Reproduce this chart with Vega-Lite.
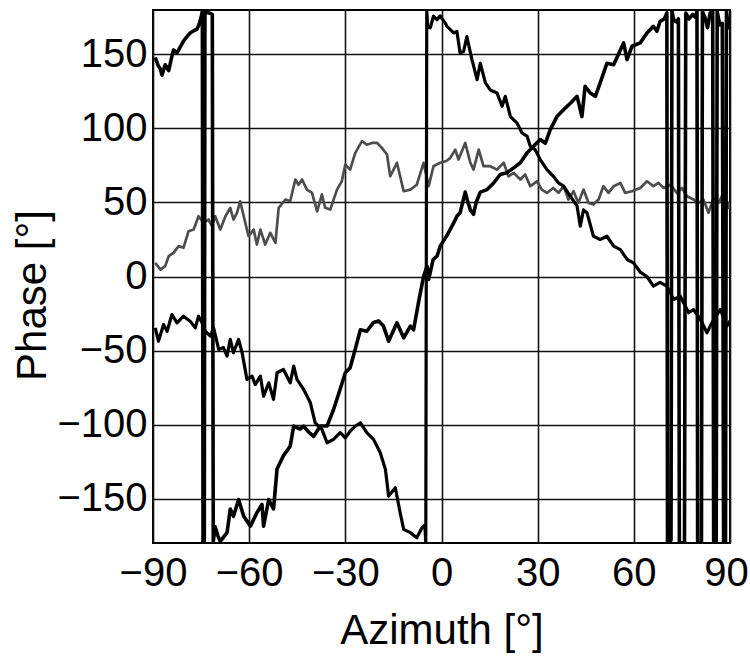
{
  "$schema": "https://vega.github.io/schema/vega-lite/v6.json",
  "autosize": {"type": "none"},
  "padding": {"left": 153, "top": 10, "right": 20, "bottom": 116},
  "width": 577,
  "height": 533,
  "background": "white",
  "config": {
    "font": "Liberation Sans, sans-serif",
    "view": {"stroke": "black", "strokeWidth": 2},
    "axis": {
      "domain": false,
      "ticks": false,
      "tickSize": 0,
      "grid": true,
      "gridColor": "#111",
      "gridWidth": 1.6,
      "gridOpacity": 1,
      "labelFont": "Liberation Sans, sans-serif",
      "labelFontSize": 40,
      "labelColor": "black",
      "titleFont": "Liberation Sans, sans-serif",
      "titleFontSize": 42,
      "titleFontWeight": "normal",
      "titleColor": "black"
    }
  },
  "datasets": {
    "A": [
      {"az": -89.3, "ph": 148}, {"az": -88.5, "ph": 143}, {"az": -87.7, "ph": 140}, {"az": -87.2, "ph": 136},
      {"az": -86.2, "ph": 143}, {"az": -85.1, "ph": 139}, {"az": -84.3, "ph": 147}, {"az": -83.6, "ph": 153},
      {"az": -82.5, "ph": 151}, {"az": -81.5, "ph": 155}, {"az": -80.5, "ph": 159}, {"az": -79.4, "ph": 162},
      {"az": -78.4, "ph": 164.5}, {"az": -77.3, "ph": 166}, {"az": -76.3, "ph": 167}, {"az": -75.5, "ph": 171},
      {"az": -74.9, "ph": 176}, {"az": -74.6, "ph": 179}, {"az": -74.4, "ph": -179}, {"az": -74.2, "ph": -180},
      {"az": -74.0, "ph": -179}, {"az": -73.8, "ph": 179}, {"az": -72.5, "ph": 178}, {"az": -71.5, "ph": 177},
      {"az": -71.2, "ph": -179}, {"az": -70.6, "ph": -169}, {"az": -69.8, "ph": -175}, {"az": -69.0, "ph": -179},
      {"az": -68.0, "ph": -176}, {"az": -66.9, "ph": -173}, {"az": -65.9, "ph": -157}, {"az": -64.9, "ph": -162},
      {"az": -63.3, "ph": -150.6}, {"az": -61.7, "ph": -162}, {"az": -59.6, "ph": -168.6}, {"az": -57.6, "ph": -159.6},
      {"az": -56.0, "ph": -154}, {"az": -55.5, "ph": -168.6}, {"az": -53.9, "ph": -150.6}, {"az": -52.4, "ph": -157},
      {"az": -51.3, "ph": -130}, {"az": -49.3, "ph": -121}, {"az": -47.2, "ph": -114.6}, {"az": -46.1, "ph": -101},
      {"az": -44.1, "ph": -103}, {"az": -43.0, "ph": -101}, {"az": -41.5, "ph": -105}, {"az": -39.9, "ph": -108},
      {"az": -37.8, "ph": -101}, {"az": -35.7, "ph": -101}, {"az": -33.7, "ph": -90}, {"az": -31.6, "ph": -76},
      {"az": -30.0, "ph": -65}, {"az": -28.5, "ph": -61.6}, {"az": -26.9, "ph": -49}, {"az": -25.3, "ph": -36},
      {"az": -23.3, "ph": -37}, {"az": -21.2, "ph": -31}, {"az": -19.6, "ph": -30}, {"az": -18.1, "ph": -33.5},
      {"az": -16.5, "ph": -43.7}, {"az": -13.9, "ph": -31.3}, {"az": -11.8, "ph": -41.4}, {"az": -9.7, "ph": -33.5},
      {"az": -8.7, "ph": -36}, {"az": -7.2, "ph": -17.8}, {"az": -5.6, "ph": 0}, {"az": -4.5, "ph": 7},
      {"az": -4.0, "ph": -2}, {"az": -2.6, "ph": 11.6}, {"az": -1.4, "ph": 13.7}, {"az": -0.4, "ph": 20.5},
      {"az": 1.5, "ph": 27}, {"az": 2.7, "ph": 31.7}, {"az": 4.0, "ph": 37}, {"az": 4.8, "ph": 40.7},
      {"az": 5.8, "ph": 43}, {"az": 7.4, "ph": 57}, {"az": 8.0, "ph": 52}, {"az": 9.0, "ph": 45},
      {"az": 10.0, "ph": 42}, {"az": 10.8, "ph": 50}, {"az": 12.1, "ph": 57}, {"az": 14.2, "ph": 58.7},
      {"az": 16.2, "ph": 63}, {"az": 18.3, "ph": 68.9}, {"az": 20.4, "ph": 70}, {"az": 22.5, "ph": 73.4},
      {"az": 24.6, "ph": 76.8}, {"az": 26.7, "ph": 83.5}, {"az": 28.7, "ph": 88}, {"az": 30.8, "ph": 92.5},
      {"az": 32.4, "ph": 90}, {"az": 33.9, "ph": 99}, {"az": 36.0, "ph": 108}, {"az": 38.1, "ph": 112.7},
      {"az": 40.2, "ph": 117}, {"az": 42.3, "ph": 121.7}, {"az": 43.8, "ph": 108}, {"az": 44.8, "ph": 128.5},
      {"az": 46.4, "ph": 124}, {"az": 48.0, "ph": 121.7}, {"az": 49.5, "ph": 130.8}, {"az": 51.6, "ph": 144},
      {"az": 53.7, "ph": 143}, {"az": 55.8, "ph": 153}, {"az": 56.8, "ph": 157.8}, {"az": 57.9, "ph": 146.5},
      {"az": 59.4, "ph": 155.5}, {"az": 62.0, "ph": 157.8}, {"az": 64.1, "ph": 164.5}, {"az": 66.1, "ph": 169},
      {"az": 67.2, "ph": 165.6}, {"az": 68.2, "ph": 172.4}, {"az": 69.5, "ph": 174}, {"az": 70.3, "ph": 178},
      {"az": 70.5, "ph": -179}, {"az": 71.0, "ph": -180}, {"az": 71.6, "ph": -178}, {"az": 71.9, "ph": 179},
      {"az": 72.5, "ph": 173}, {"az": 73.3, "ph": 172}, {"az": 73.9, "ph": 174}, {"az": 74.2, "ph": -179},
      {"az": 75.0, "ph": -180}, {"az": 75.8, "ph": -179}, {"az": 76.2, "ph": 178}, {"az": 77.2, "ph": 174},
      {"az": 78.4, "ph": 177}, {"az": 79.2, "ph": 175}, {"az": 79.7, "ph": 179}, {"az": 79.9, "ph": -179},
      {"az": 80.6, "ph": -180}, {"az": 81.1, "ph": -179}, {"az": 81.4, "ph": 179}, {"az": 82.2, "ph": 175},
      {"az": 83.0, "ph": 168}, {"az": 83.8, "ph": 178}, {"az": 84.6, "ph": 179}, {"az": 84.9, "ph": -179},
      {"az": 85.3, "ph": -176}, {"az": 85.7, "ph": -179}, {"az": 86.0, "ph": 179}, {"az": 86.8, "ph": 170},
      {"az": 87.6, "ph": 171}, {"az": 88.0, "ph": -179}, {"az": 88.3, "ph": -176}, {"az": 88.6, "ph": -179},
      {"az": 88.9, "ph": 179}, {"az": 89.5, "ph": 168}, {"az": 90.0, "ph": 172}
    ],
    "B": [
      {"az": -89.3, "ph": -34.7}, {"az": -88.3, "ph": -43.7}, {"az": -86.7, "ph": -32.4}, {"az": -85.6, "ph": -37},
      {"az": -84.1, "ph": -25.7}, {"az": -82.5, "ph": -31.3}, {"az": -80.5, "ph": -26.8}, {"az": -78.4, "ph": -30.2},
      {"az": -76.8, "ph": -34.7}, {"az": -75.8, "ph": -26.8}, {"az": -74.7, "ph": -31.3}, {"az": -73.7, "ph": -37},
      {"az": -72.1, "ph": -40.3}, {"az": -71.1, "ph": -34.7}, {"az": -69.5, "ph": -49.3}, {"az": -68.0, "ph": -48},
      {"az": -66.9, "ph": -53.8}, {"az": -65.9, "ph": -42.5}, {"az": -64.9, "ph": -51.5}, {"az": -63.3, "ph": -42.5},
      {"az": -62.2, "ph": -51.5}, {"az": -60.7, "ph": -69.5}, {"az": -59.1, "ph": -67.3}, {"az": -58.1, "ph": -73},
      {"az": -56.5, "ph": -67.3}, {"az": -55.5, "ph": -80.8}, {"az": -53.9, "ph": -71.8}, {"az": -52.4, "ph": -83},
      {"az": -51.3, "ph": -65}, {"az": -49.3, "ph": -62.8}, {"az": -47.2, "ph": -71.8}, {"az": -46.1, "ph": -60.5},
      {"az": -45.1, "ph": -69.5}, {"az": -43.0, "ph": -76.3}, {"az": -40.9, "ph": -85.3}, {"az": -39.4, "ph": -98.8},
      {"az": -37.3, "ph": -103.3}, {"az": -35.7, "ph": -112.3}, {"az": -33.7, "ph": -110}, {"az": -31.6, "ph": -105.5},
      {"az": -30.0, "ph": -109}, {"az": -28.5, "ph": -104.5}, {"az": -26.9, "ph": -101}, {"az": -25.3, "ph": -98.8},
      {"az": -23.3, "ph": -105.5}, {"az": -21.2, "ph": -110}, {"az": -19.1, "ph": -119}, {"az": -17.5, "ph": -130.3},
      {"az": -16.5, "ph": -148.3}, {"az": -14.4, "ph": -142.7}, {"az": -12.9, "ph": -159.6}, {"az": -11.8, "ph": -170.8},
      {"az": -9.7, "ph": -173}, {"az": -7.7, "ph": -176.5}, {"az": -6.1, "ph": -169.7}, {"az": -5.2, "ph": -168},
      {"az": -4.9, "ph": -179.5}, {"az": -4.6, "ph": 179.5}, {"az": -4.3, "ph": 169}, {"az": -3.5, "ph": 168},
      {"az": -2.5, "ph": 175.8}, {"az": -1.4, "ph": 173.5}, {"az": -0.4, "ph": 176}, {"az": 1.2, "ph": 171},
      {"az": 1.7, "ph": 169}, {"az": 3.8, "ph": 164.5}, {"az": 4.8, "ph": 165.6}, {"az": 5.8, "ph": 151},
      {"az": 6.9, "ph": 152}, {"az": 7.9, "ph": 162}, {"az": 9.5, "ph": 146.5}, {"az": 11.1, "ph": 133},
      {"az": 12.1, "ph": 144}, {"az": 13.7, "ph": 130.8}, {"az": 15.2, "ph": 126}, {"az": 17.3, "ph": 124},
      {"az": 18.9, "ph": 115}, {"az": 19.9, "ph": 121.7}, {"az": 21.5, "ph": 108}, {"az": 23.5, "ph": 103.8},
      {"az": 25.1, "ph": 97}, {"az": 26.7, "ph": 94.7}, {"az": 27.7, "ph": 88}, {"az": 29.2, "ph": 85.7},
      {"az": 30.8, "ph": 79}, {"az": 32.9, "ph": 72.2}, {"az": 34.9, "ph": 67.7}, {"az": 36.5, "ph": 63.2},
      {"az": 38.1, "ph": 61}, {"az": 40.2, "ph": 54.2}, {"az": 42.3, "ph": 47.5}, {"az": 43.3, "ph": 34},
      {"az": 44.3, "ph": 45}, {"az": 45.4, "ph": 43}, {"az": 47.4, "ph": 27.2}, {"az": 49.5, "ph": 25},
      {"az": 51.6, "ph": 27.2}, {"az": 53.7, "ph": 20.5}, {"az": 55.8, "ph": 18.2}, {"az": 57.9, "ph": 11.5},
      {"az": 59.9, "ph": 9.2}, {"az": 62.0, "ph": 3}, {"az": 64.1, "ph": 0}, {"az": 66.1, "ph": -6.5},
      {"az": 68.2, "ph": -4}, {"az": 70.3, "ph": -6.5}, {"az": 72.4, "ph": -15.5}, {"az": 74.5, "ph": -13.3},
      {"az": 77.1, "ph": -24.5}, {"az": 78.6, "ph": -22.3}, {"az": 80.8, "ph": -29}, {"az": 82.8, "ph": -38},
      {"az": 84.9, "ph": -29}, {"az": 87.0, "ph": -22.3}, {"az": 89.0, "ph": -33.5}, {"az": 90.0, "ph": -30}
    ],
    "C": [
      {"az": -89.3, "ph": 9.2}, {"az": -87.7, "ph": 4.7}, {"az": -86.2, "ph": 7}, {"az": -85.1, "ph": 13.7},
      {"az": -83.6, "ph": 16}, {"az": -82.0, "ph": 20.5}, {"az": -80.5, "ph": 19.4}, {"az": -78.9, "ph": 30.6},
      {"az": -77.3, "ph": 31.7}, {"az": -75.8, "ph": 40.7}, {"az": -74.2, "ph": 36.2}, {"az": -72.7, "ph": 38.5},
      {"az": -71.6, "ph": 34}, {"az": -70.6, "ph": 40.7}, {"az": -69.0, "ph": 31.7}, {"az": -67.4, "ph": 40.7},
      {"az": -65.9, "ph": 46.4}, {"az": -64.9, "ph": 38.5}, {"az": -63.8, "ph": 43}, {"az": -62.8, "ph": 50.8},
      {"az": -61.7, "ph": 40.7}, {"az": -60.2, "ph": 27.2}, {"az": -58.6, "ph": 31.7}, {"az": -57.6, "ph": 21.6},
      {"az": -56.5, "ph": 31.7}, {"az": -55.0, "ph": 21.6}, {"az": -53.4, "ph": 29.5}, {"az": -51.8, "ph": 22.7},
      {"az": -50.8, "ph": 46.4}, {"az": -48.7, "ph": 52}, {"az": -47.2, "ph": 50.8}, {"az": -45.6, "ph": 65.5},
      {"az": -44.6, "ph": 62}, {"az": -43.5, "ph": 65.5}, {"az": -42.0, "ph": 58.7}, {"az": -40.4, "ph": 56.5},
      {"az": -38.8, "ph": 44}, {"az": -37.3, "ph": 55.4}, {"az": -36.3, "ph": 46.4}, {"az": -34.7, "ph": 45.2},
      {"az": -32.6, "ph": 58.7}, {"az": -31.1, "ph": 64.3}, {"az": -30.0, "ph": 75.6}, {"az": -28.5, "ph": 72.2},
      {"az": -26.9, "ph": 83.5}, {"az": -24.8, "ph": 91.4}, {"az": -23.3, "ph": 89}, {"az": -21.7, "ph": 90.2},
      {"az": -20.1, "ph": 90.2}, {"az": -18.6, "ph": 86.9}, {"az": -17.0, "ph": 82.4}, {"az": -16.0, "ph": 67.7},
      {"az": -13.9, "ph": 76.8}, {"az": -11.8, "ph": 57.6}, {"az": -9.7, "ph": 58.7}, {"az": -7.7, "ph": 62},
      {"az": -5.6, "ph": 76.8}, {"az": -4.0, "ph": 61}, {"az": -2.5, "ph": 74.5}, {"az": -0.4, "ph": 76.8},
      {"az": 1.5, "ph": 78}, {"az": 2.7, "ph": 80}, {"az": 4.3, "ph": 85.7}, {"az": 5.3, "ph": 79},
      {"az": 7.4, "ph": 90.2}, {"az": 9.0, "ph": 76.8}, {"az": 10.0, "ph": 72.2}, {"az": 11.6, "ph": 85.7},
      {"az": 13.1, "ph": 74.5}, {"az": 15.2, "ph": 74.5}, {"az": 17.3, "ph": 72.2}, {"az": 19.4, "ph": 76.8},
      {"az": 20.9, "ph": 67.7}, {"az": 22.5, "ph": 70}, {"az": 24.6, "ph": 65.5}, {"az": 26.1, "ph": 68.9},
      {"az": 27.7, "ph": 61}, {"az": 29.8, "ph": 64.3}, {"az": 31.3, "ph": 58.7}, {"az": 32.9, "ph": 56.5},
      {"az": 34.9, "ph": 59.8}, {"az": 36.5, "ph": 56.5}, {"az": 38.1, "ph": 61}, {"az": 39.6, "ph": 52},
      {"az": 41.2, "ph": 57.6}, {"az": 42.7, "ph": 49.7}, {"az": 44.3, "ph": 58.7}, {"az": 45.9, "ph": 49.7},
      {"az": 47.4, "ph": 48.6}, {"az": 49.0, "ph": 52}, {"az": 50.5, "ph": 61}, {"az": 52.1, "ph": 56.5},
      {"az": 53.7, "ph": 61}, {"az": 55.8, "ph": 63.2}, {"az": 57.3, "ph": 56.5}, {"az": 59.4, "ph": 57.6},
      {"az": 62.0, "ph": 59.8}, {"az": 64.1, "ph": 64.3}, {"az": 66.1, "ph": 61}, {"az": 67.7, "ph": 63.2},
      {"az": 69.3, "ph": 59.8}, {"az": 71.4, "ph": 62}, {"az": 73.4, "ph": 56.5}, {"az": 75.0, "ph": 59.8},
      {"az": 76.6, "ph": 54.2}, {"az": 78.6, "ph": 52}, {"az": 80.2, "ph": 49.7}, {"az": 81.7, "ph": 52},
      {"az": 83.3, "ph": 43}, {"az": 84.9, "ph": 53}, {"az": 86.4, "ph": 49.7}, {"az": 88.0, "ph": 56.5},
      {"az": 89.5, "ph": 46.4}, {"az": 90.0, "ph": 50}
    ]
  },
  "encoding": {
    "x": {
      "field": "az", "type": "quantitative",
      "scale": {"domain": [-90, 90], "nice": false, "zero": false},
      "axis": {
        "values": [-90, -60, -30, 0, 30, 60, 90],
        "title": "Azimuth [°]",
        "labelPadding": 10,
        "labelFlush": false,
        "labelOffset": {"condition": {"test": "datum.value == 90", "value": -4}, "value": 0},
        "titleY": 100,
        "titleBaseline": "alphabetic",
        "titlePadding": 0
      }
    },
    "y": {
      "field": "ph", "type": "quantitative",
      "scale": {"domain": [-180, 180], "nice": false, "zero": false},
      "axis": {
        "values": [-150, -100, -50, 0, 50, 100, 150],
        "title": "Phase [°]",
        "labelPadding": 6,
        "titleAngle": -90,
        "titleX": -121,
        "titleY": 285,
        "titleAlign": "center",
        "titleBaseline": "middle"
      }
    }
  },
  "layer": [
    {"data": {"name": "C"}, "mark": {"type": "line", "color": "#4d4d4d", "strokeWidth": 2.7, "strokeJoin": "round", "clip": true}},
    {"data": {"name": "B"}, "mark": {"type": "line", "color": "#000000", "strokeWidth": 3.2, "strokeJoin": "round", "clip": true}},
    {"data": {"name": "A"}, "mark": {"type": "line", "color": "#000000", "strokeWidth": 3.6, "strokeJoin": "round", "clip": true}}
  ]
}
